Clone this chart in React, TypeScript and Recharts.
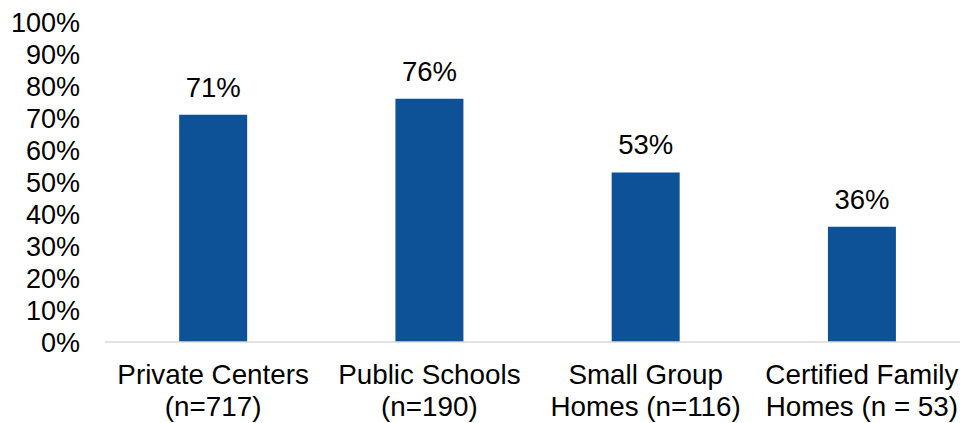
import { BarChart, Bar, XAxis, YAxis, LabelList } from "recharts";

const categories = [
  "Private Centers\n(n=717)",
  "Public Schools\n(n=190)",
  "Small Group\nHomes (n=116)",
  "Certified Family\nHomes (n = 53)",
];
const shares = [71, 76, 53, 36];
const yTicks = [0, 10, 20, 30, 40, 50, 60, 70, 80, 90, 100];

const data = categories.map((name, i) => ({ name, value: shares[i] }));

const FONT = "'Liberation Sans', Arial, sans-serif";

// two-line category labels
function CategoryTick(props: any) {
  const { x, y, payload } = props;
  const lines = String(payload.value).split("\n");
  return (
    <g transform={`translate(${x},${y})`}>
      {lines.map((line, i) => (
        <text
          key={i}
          x={0}
          y={34 + i * 32}
          textAnchor="middle"
          fontFamily={FONT}
          fontSize={27.8}
          fill="#000"
        >
          {line}
        </text>
      ))}
    </g>
  );
}

export default function App() {
  return (
    <div
      style={{
        position: "absolute",
        left: 0,
        top: 0,
        width: 960,
        height: 423,
        overflow: "hidden",
        background: "#fff",
      }}
    >
      <BarChart
        width={970}
        height={423}
        data={data}
        margin={{ top: 22, right: 0, bottom: 0, left: 0 }}
        barCategoryGap="34.3%"
      >
        <XAxis
          dataKey="name"
          height={81}
          interval={0}
          tickLine={false}
          axisLine={{ stroke: "#d9d9d9", strokeWidth: 1.5 }}
          tick={<CategoryTick />}
        />
        <YAxis
          width={105}
          domain={[0, 100]}
          ticks={yTicks}
          interval={0}
          axisLine={false}
          tickLine={false}
          tickMargin={19}
          tickFormatter={(v) => `${v}%`}
          tick={{ fontSize: 27, fill: "#000", fontFamily: FONT }}
        />
        <Bar dataKey="value" fill="#0D5296" isAnimationActive={false}>
          <LabelList
            dataKey="value"
            position="top"
            offset={18}
            formatter={(v: any) => `${v}%`}
            style={{ fontSize: 27.5, fill: "#000", fontFamily: FONT }}
          />
        </Bar>
      </BarChart>
    </div>
  );
}
